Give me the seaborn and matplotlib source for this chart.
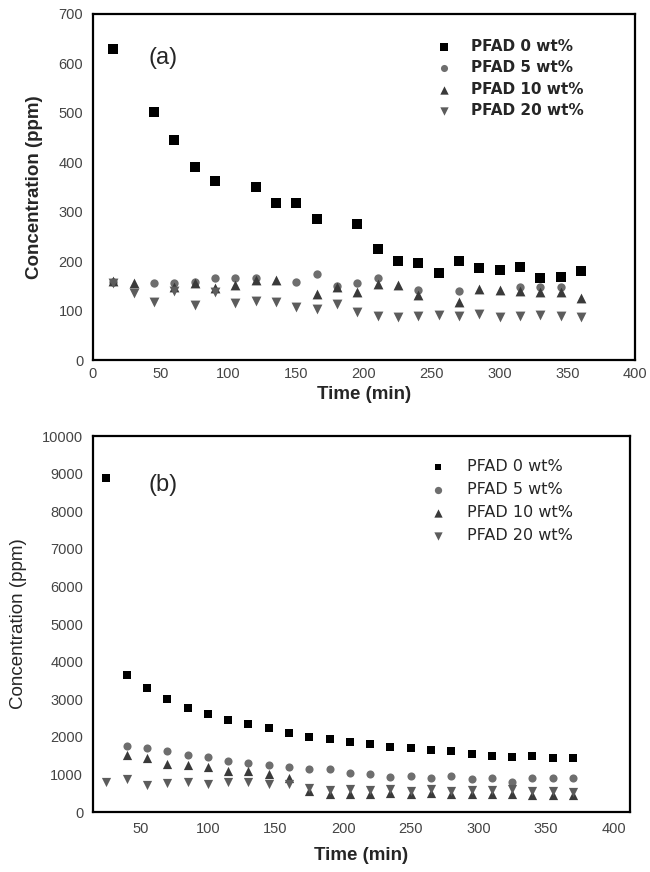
import matplotlib
matplotlib.use('Agg')
from matplotlib import pyplot as plt
import seaborn as sns

sns.set_style('white')
plt.rcParams['font.family'] = ['Liberation Sans', 'DejaVu Sans']

# ---------------- 数据 (a) ----------------
a_t0 = [15, 45, 60, 75, 90, 120, 135, 150, 165, 195, 210, 225, 240, 255, 270, 285, 300, 315, 330, 345, 360]
a_c0 = [630, 502, 445, 391, 363, 350, 317, 317, 285, 276, 225, 201, 196, 176, 200, 187, 183, 189, 166, 168, 181]

a_t5 = [15, 45, 60, 75, 90, 105, 120, 150, 165, 180, 195, 210, 240, 270, 315, 330, 345]
a_c5 = [157, 155, 155, 158, 167, 167, 166, 157, 174, 150, 155, 166, 142, 140, 148, 148, 148]

a_t10 = [15, 30, 60, 75, 90, 105, 120, 135, 165, 180, 195, 210, 225, 240, 270, 285, 300, 315, 330, 345, 360]
a_c10 = [160, 155, 147, 155, 145, 152, 163, 162, 133, 147, 137, 154, 152, 131, 117, 144, 142, 140, 137, 137, 125]

a_t20 = [15, 30, 45, 60, 75, 90, 105, 120, 135, 150, 165, 180, 195, 210, 225, 240, 255, 270, 285, 300, 315, 330, 345, 360]
a_c20 = [155, 135, 118, 140, 112, 138, 115, 119, 117, 108, 104, 113, 98, 90, 88, 90, 92, 90, 94, 88, 90, 91, 90, 88]

# ---------------- 数据 (b) ----------------
b_t0 = [25, 40, 55, 70, 85, 100, 115, 130, 145, 160, 175, 190, 205, 220, 235, 250, 265, 280, 295, 310, 325, 340, 355, 370]
b_c0 = [8880, 3650, 3300, 3000, 2780, 2600, 2450, 2350, 2230, 2110, 2000, 1950, 1850, 1820, 1740, 1690,
        1650, 1630, 1540, 1500, 1470, 1490, 1430, 1430]

b_t5 = [40, 55, 70, 85, 100, 115, 130, 145, 160, 175, 190, 205, 220, 235, 250, 265, 280, 295, 310, 325, 340, 355, 370]
b_c5 = [1750, 1690, 1630, 1525, 1472, 1360, 1294, 1250, 1205, 1135, 1144, 1046, 1020, 940, 965, 895,
        965, 870, 915, 808, 915, 915, 895]

b_t10 = [40, 55, 70, 85, 100, 115, 130, 145, 160, 175, 190, 205, 220, 235, 250, 265, 280, 295, 310, 325, 340, 355, 370]
b_c10 = [1520, 1430, 1290, 1260, 1190, 1095, 1090, 1000, 910, 560, 480, 490, 480, 500, 470, 500,
         470, 480, 470, 490, 450, 460, 440]

b_t20 = [25, 40, 55, 70, 85, 100, 115, 130, 145, 160, 175, 190, 205, 220, 235, 250, 265, 280, 295, 310, 325, 340, 355, 370]
b_c20 = [800, 890, 720, 760, 790, 745, 800, 790, 750, 740, 640, 580, 600, 580, 620, 570,
         610, 570, 590, 580, 600, 550, 560, 520]

labels = ['PFAD 0 wt%', 'PFAD 5 wt%', 'PFAD 10 wt%', 'PFAD 20 wt%']
markers = ['s', 'o', '^', 'v']
colors = ['#000000', '#6e6e6e', '#3a3a3a', '#5c5c5c']

fig = plt.figure(figsize=(6.5, 8.72), dpi=100)
ax1 = fig.add_axes([0.143, 0.587, 0.834, 0.397])
ax2 = fig.add_axes([0.143, 0.0688, 0.826, 0.431])

# 散点图 (a)
sizes_a = [42, 36, 50, 50]
for t, c, lab, m, col, s in zip([a_t0, a_t5, a_t10, a_t20], [a_c0, a_c5, a_c10, a_c20],
                                labels, markers, colors, sizes_a):
    sns.scatterplot(x=t, y=c, ax=ax1, marker=m, color=col, s=s, linewidth=0, label=lab)

ax1.set_xlim(0, 400)
ax1.set_ylim(0, 700)
ax1.set_xticks(range(0, 401, 50))
ax1.set_yticks(range(0, 701, 100))
ax1.set_xlabel('Time (min)', fontsize=13.5, fontweight='bold')
ax1.set_ylabel('Concentration (ppm)', fontsize=13.5, fontweight='bold')
ax1.xaxis.set_label_coords(0.5, -0.076)
ax1.yaxis.set_label_coords(-0.092, 0.5)
ax1.text(0.129, 0.873, '(a)', transform=ax1.transAxes, fontsize=17, ha='center', va='center')
leg1 = ax1.legend(loc='upper left', bbox_to_anchor=(0.633, 0.928), frameon=False, borderpad=0,
                  borderaxespad=0, handlelength=1.0, handletextpad=1.29, labelspacing=0.42,
                  markerscale=0.85, prop={'family': 'DejaVu Sans', 'size': 11, 'weight': 'bold'})

# 散点图 (b)
sizes_b = [30, 34, 44, 44]
for t, c, lab, m, col, s in zip([b_t0, b_t5, b_t10, b_t20], [b_c0, b_c5, b_c10, b_c20],
                                labels, markers, colors, sizes_b):
    sns.scatterplot(x=t, y=c, ax=ax2, marker=m, color=col, s=s, linewidth=0, label=lab)

ax2.set_xlim(15, 412)
ax2.set_ylim(0, 10000)
ax2.set_xticks(range(50, 401, 50))
ax2.set_yticks(range(0, 10001, 1000))
ax2.set_xlabel('Time (min)', fontsize=13.5, fontweight='bold')
ax2.set_ylabel('Concentration (ppm)', fontsize=13.5)
ax2.xaxis.set_label_coords(0.5, -0.092)
ax2.yaxis.set_label_coords(-0.123, 0.5)
ax2.text(0.130, 0.870, '(b)', transform=ax2.transAxes, fontsize=17, ha='center', va='center')
leg2 = ax2.legend(loc='upper left', bbox_to_anchor=(0.628, 0.940), frameon=False, borderpad=0,
                  borderaxespad=0, handlelength=1.0, handletextpad=1.31, labelspacing=0.51,
                  markerscale=0.9, prop={'family': 'DejaVu Sans', 'size': 11.5})

for ax, pad_x in [(ax1, 5), (ax2, 7)]:
    for sp in ax.spines.values():
        sp.set_color('black')
        sp.set_linewidth(1.6)
    ax.tick_params(axis='both', length=0, labelsize=10.5, labelcolor='#444444')
    ax.tick_params(axis='x', pad=pad_x)
    ax.tick_params(axis='y', pad=7)
    ax.grid(False)

fig.savefig('out.png', dpi=100)
